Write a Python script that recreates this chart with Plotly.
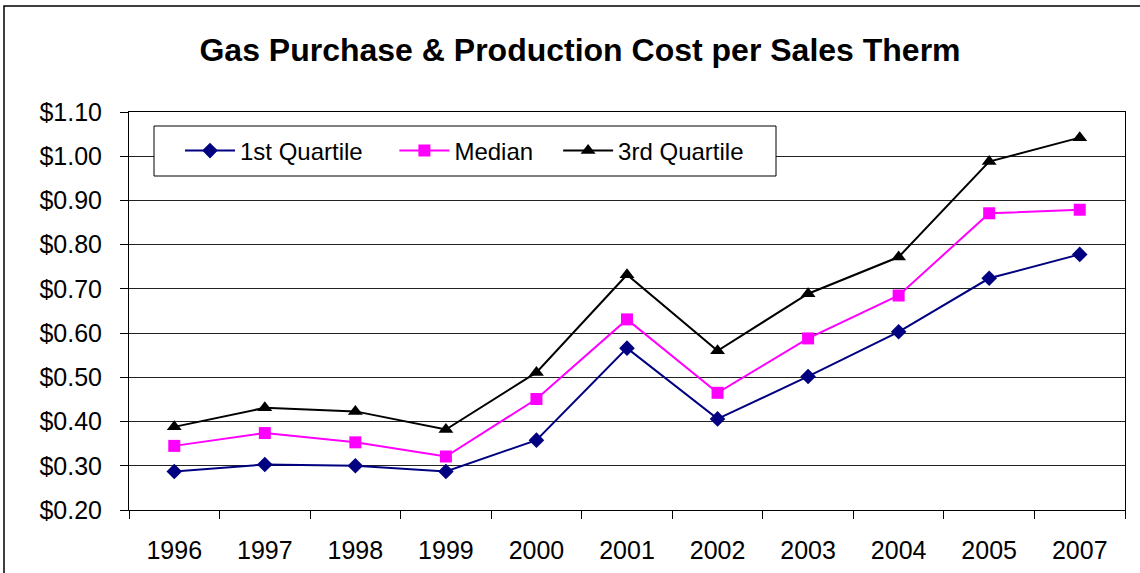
import plotly.graph_objects as go

years = ["1996", "1997", "1998", "1999", "2000", "2001", "2002", "2003", "2004", "2005", "2007"]
q1 = [0.287, 0.303, 0.300, 0.287, 0.358, 0.566, 0.406, 0.502, 0.603, 0.724, 0.778]
median = [0.345, 0.374, 0.353, 0.321, 0.451, 0.631, 0.465, 0.588, 0.685, 0.871, 0.879]
q3 = [0.388, 0.431, 0.423, 0.382, 0.511, 0.732, 0.560, 0.689, 0.772, 0.988, 1.042]
series_names = ["1st Quartile", "Median", "3rd Quartile"]

NB = "\u00a0"

fig = go.Figure()
fig.add_trace(go.Scatter(x=years, y=q1, name=series_names[0] + NB * 4, mode="lines+markers",
                         line=dict(color="#000080", width=2),
                         marker=dict(symbol="diamond", size=12, color="#000080")))
fig.add_trace(go.Scatter(x=years, y=median, name=series_names[1] + NB * 3, mode="lines+markers",
                         line=dict(color="#FF00FF", width=2),
                         marker=dict(symbol="square", size=12, color="#FF00FF")))
fig.add_trace(go.Scatter(x=years, y=q3, name=series_names[2], mode="lines+markers",
                         line=dict(color="#000000", width=2),
                         marker=dict(symbol="triangle-up", size=13, color="#000000")))

font = "Arial, Liberation Sans, sans-serif"
W, H = 1140, 573
L, R, T, B = 129, 15, 112, 63
PW, PH = W - L - R, H - T - B


def px(x):
    return (x - L) / PW


def py(y):
    return (H - B - y) / PH


fig.update_layout(
    width=W, height=H,
    margin=dict(l=L, r=R, t=T, b=B),
    paper_bgcolor="white", plot_bgcolor="white",
    font=dict(family=font, size=25, color="black"),
    title=dict(text="<b>Gas Purchase & Production Cost per Sales Therm</b>",
               x=580 / W, xref="container", xanchor="center",
               y=1 - 50 / H, yref="container", yanchor="middle",
               font=dict(family=font, size=32, color="black")),
    showlegend=True,
    legend=dict(orientation="h", x=px(180), y=py(151), xanchor="left", yanchor="middle",
                bgcolor="rgba(0,0,0,0)", borderwidth=0, itemwidth=50,
                font=dict(family=font, size=24, color="black")),
    xaxis=dict(type="category", range=[-0.5, len(years) - 0.5], autorange=False,
               automargin=False,
               showgrid=False, showline=True, linecolor="black",
               linewidth=1, mirror=True, ticks="outside", ticklen=8, tickcolor="black",
               tickson="boundaries", ticklabelstandoff=18,
               tickfont=dict(family=font, size=25, color="black")),
    yaxis=dict(range=[0.2, 1.1], dtick=0.1, tickformat="$.2f", showgrid=True,
               automargin=False,
               gridcolor="#222222", gridwidth=1, showline=True, linecolor="black",
               linewidth=1, mirror=True, ticks="outside", ticklen=8, tickcolor="black",
               zeroline=False, ticklabelstandoff=13,
               tickfont=dict(family=font, size=25, color="black")),
    shapes=[
        dict(type="rect", xref="paper", yref="paper",
             x0=px(4), x1=1.5, y0=-0.5, y1=py(6),
             line=dict(color="black", width=1.5), layer="below"),
        dict(type="rect", xref="paper", yref="paper",
             x0=px(154), x1=px(776), y0=py(176), y1=py(126),
             fillcolor="white", line=dict(color="black", width=1), layer="above"),
    ],
)

fig.write_html("out.html", config={"displayModeBar": False},
               post_script="document.body.style.margin='0';")
